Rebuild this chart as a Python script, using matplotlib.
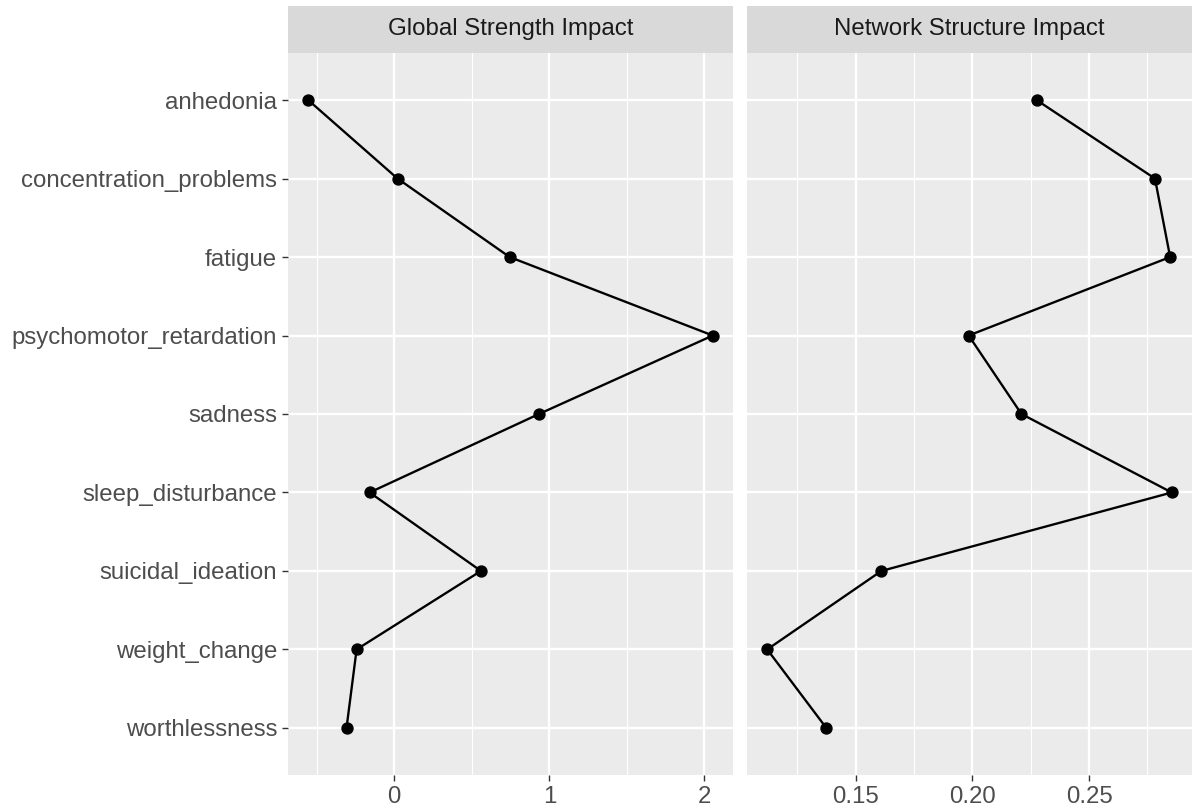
import numpy as np
import matplotlib
matplotlib.use("Agg")
import matplotlib.pyplot as plt

plt.rcParams['font.family'] = ['Liberation Sans', 'DejaVu Sans']

symptoms = ["anhedonia", "concentration_problems", "fatigue", "psychomotor_retardation",
            "sadness", "sleep_disturbance", "suicidal_ideation", "weight_change", "worthlessness"]
global_strength = [-0.555, 0.021, 0.744, 2.054, 0.933, -0.159, 0.559, -0.243, -0.308]
network_structure = [0.2275, 0.2782, 0.2847, 0.1984, 0.2210, 0.2854, 0.1610, 0.1121, 0.1374]
facet_titles = ["Global Strength Impact", "Network Structure Impact"]

left_ticks = [0, 1, 2]
left_minor = [-0.5, 0.5, 1.5]
right_ticks = [0.15, 0.20, 0.25]
right_minor = [0.125, 0.175, 0.225, 0.275]

W, H = 1196, 811
fig = plt.figure(figsize=(W / 100, H / 100), dpi=100)

panel_bg = "#EBEBEB"
strip_bg = "#D9D9D9"
fs = 17.3


def expand(vals, mult=0.05):
    lo, hi = min(vals), max(vals)
    d = (hi - lo) * mult
    return lo - d, hi + d


def make_panel(x0, vals, title, major, minor, labels, show_y):
    ax = fig.add_axes([x0 / W, (H - 775) / H, 445 / W, (775 - 53) / H])
    ax.set_facecolor(panel_bg)
    ypos = np.arange(len(symptoms))
    ax.set_xlim(*expand(vals))
    ax.set_ylim(len(symptoms) - 1 + 0.6, -0.6)
    for v in minor:
        ax.axvline(v, color="white", lw=0.83, zorder=1)
    for v in major:
        ax.axvline(v, color="white", lw=1.68, zorder=1)
    for y in ypos:
        ax.axhline(y, color="white", lw=1.68, zorder=1)
    ax.plot(vals, ypos, color="black", lw=1.68, zorder=3)
    ax.plot(vals, ypos, "o", color="black", ms=7.9, zorder=4)
    ax.set_xticks(major)
    ax.set_xticklabels(labels)
    ax.set_yticks(ypos)
    if show_y:
        ax.set_yticklabels(symptoms)
    else:
        ax.set_yticklabels([])
    ax.tick_params(axis="both", length=4.3, width=1.0, color="#333333",
                   labelcolor="#4D4D4D", labelsize=fs, pad=3.5)
    if not show_y:
        ax.tick_params(axis="y", length=0)
    for s in ax.spines.values():
        s.set_visible(False)

    # facet strip
    sax = fig.add_axes([x0 / W, (H - 53) / H, 445 / W, 47 / H])
    sax.set_facecolor(strip_bg)
    sax.set_xticks([])
    sax.set_yticks([])
    for s in sax.spines.values():
        s.set_visible(False)
    sax.text(0.5, 0.5, title, ha="center", va="center", fontsize=fs,
             color="#1A1A1A", transform=sax.transAxes)
    return ax


make_panel(288, global_strength, facet_titles[0], left_ticks, left_minor,
           ["0", "1", "2"], True)
make_panel(747, network_structure, facet_titles[1], right_ticks, right_minor,
           ["0.15", "0.20", "0.25"], False)

fig.savefig("out.png", dpi=100)
